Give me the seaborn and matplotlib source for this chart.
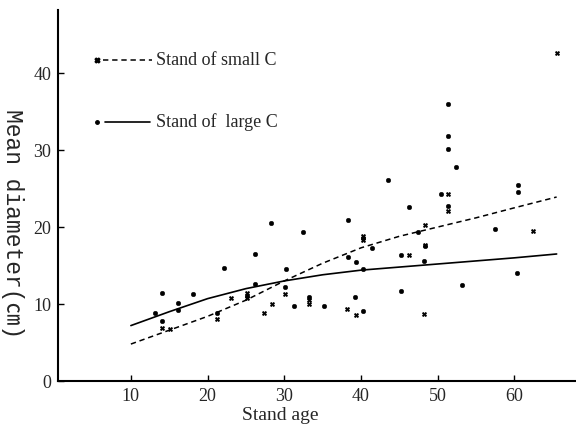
import numpy as np
import pandas as pd
import matplotlib
matplotlib.use("Agg")
import matplotlib.pyplot as plt
import seaborn as sns

# ---- data ----
small_age = [14.1, 15.1, 21.2, 23.1, 25.2, 25.2, 27.3, 28.4, 30.1, 33.2, 33.2,
             38.2, 39.3, 40.3, 40.3, 46.2, 48.3, 48.3, 48.2, 51.4, 51.4, 62.4, 65.6]
small_diam = [6.9, 6.7, 8.0, 10.8, 10.8, 11.4, 8.8, 10.0, 11.3, 10.0, 10.5,
              9.4, 8.6, 18.3, 18.9, 16.4, 20.3, 17.7, 8.7, 22.1, 24.3, 19.5, 42.6]

large_age = [13.1, 14.1, 14.1, 16.1, 16.1, 18.1, 21.2, 22.1, 25.2, 26.2, 26.2,
             28.3, 30.2, 30.1, 31.2, 32.4, 33.2, 35.2, 38.3, 38.3, 39.2, 39.3,
             40.2, 40.2, 40.3, 41.4, 43.5, 45.2, 45.2, 46.3, 47.4, 48.2, 48.3,
             50.4, 51.4, 51.4, 51.3, 51.4, 52.4, 53.2, 57.4, 60.4, 60.4, 60.3]
large_diam = [8.8, 11.4, 7.8, 10.1, 9.2, 11.3, 8.8, 14.7, 11.0, 16.5, 12.6,
              20.5, 14.6, 12.2, 9.8, 19.4, 10.9, 9.8, 20.9, 16.1, 10.9, 15.4,
              14.5, 9.1, 18.6, 17.3, 26.1, 16.4, 11.7, 22.6, 19.3, 15.6, 17.5,
              24.3, 22.7, 31.8, 30.1, 36.0, 27.8, 12.5, 19.8, 25.4, 24.5, 14.0]

curve_age = [10, 15, 20, 25, 30, 35, 40, 45, 50, 55, 60, 65.5]
small_curve = [4.8, 6.6, 8.4, 10.5, 13.0, 15.3, 17.3, 18.8, 20.0, 21.2, 22.5, 23.9]
large_curve = [7.2, 9.0, 10.7, 12.0, 13.0, 13.8, 14.4, 14.8, 15.2, 15.6, 16.0, 16.5]

x_ticks = [10, 20, 30, 40, 50, 60]
y_ticks = [0, 10, 20, 30, 40]
legend_labels = ["Stand of small C", "Stand of  large C"]

# ---- style ----
sns.set_style("ticks")
plt.rcParams["font.family"] = ["Liberation Serif", "Noto Sans CJK JP", "DejaVu Sans"]
plt.rcParams["xtick.direction"] = "in"
plt.rcParams["ytick.direction"] = "in"

fig = plt.figure(figsize=(5.76, 4.34), dpi=100)
ax = fig.add_axes([0.1007, 0.1221, 0.899, 0.855])

df_small = pd.DataFrame({"age": small_age, "diam": small_diam})
df_large = pd.DataFrame({"age": large_age, "diam": large_diam})
df_cs = pd.DataFrame({"age": curve_age, "diam": small_curve})
df_cl = pd.DataFrame({"age": curve_age, "diam": large_curve})

sns.scatterplot(data=df_large, x="age", y="diam", ax=ax, marker="o", s=11,
                color="black", edgecolor="black", linewidth=0.3, zorder=3)
sns.scatterplot(data=df_small, x="age", y="diam", ax=ax, marker="X", s=11,
                color="black", edgecolor="black", linewidth=0.3, zorder=3)
sns.lineplot(data=df_cs, x="age", y="diam", ax=ax, color="black", lw=1.1,
             linestyle=(0, (3.5, 2.5)), zorder=2)
sns.lineplot(data=df_cl, x="age", y="diam", ax=ax, color="black", lw=1.2, zorder=2)

ax.set_xlim(0.5, 68)
ax.set_ylim(0, 48.2)
ax.set_xticks(x_ticks)
ax.set_yticks(y_ticks)
ax.set_xticklabels([str(v) for v in x_ticks], fontsize=13)
ax.set_yticklabels([str(v) for v in y_ticks], fontsize=13)
ax.tick_params(axis="both", length=4, width=1, color="black", pad=5)
sns.despine(ax=ax)
for s in ["left", "bottom"]:
    ax.spines[s].set_linewidth(1.5)
    ax.spines[s].set_color("black")

ax.set_xlabel("Stand age", fontsize=14)
ax.xaxis.set_label_coords(0.43, -0.07)
ax.set_ylabel("Mean diameter(㎝)", fontsize=16.5, rotation=-90, va="center",
              family=["Liberation Mono", "Noto Sans CJK JP", "DejaVu Sans"])
ax.yaxis.set_label_coords(-0.087, 0.423)

# legend (hand-placed, in axes coordinates)
tr = ax.transAxes
ax.plot([0.075], [0.865], marker="X", ms=3.5, color="black", transform=tr, clip_on=False)
ax.plot([0.087, 0.181], [0.865, 0.865], color="black", lw=1.1,
        linestyle=(0, (3.5, 2.5)), transform=tr)
ax.text(0.19, 0.865, legend_labels[0], transform=tr, fontsize=13, va="center", ha="left")
ax.plot([0.075], [0.698], marker="o", ms=2.5, color="black", transform=tr, clip_on=False)
ax.plot([0.091, 0.178], [0.698, 0.698], color="black", lw=1.2, transform=tr)
ax.text(0.19, 0.698, legend_labels[1], transform=tr, fontsize=13, va="center", ha="left")

fig.savefig("out.png", dpi=100)
